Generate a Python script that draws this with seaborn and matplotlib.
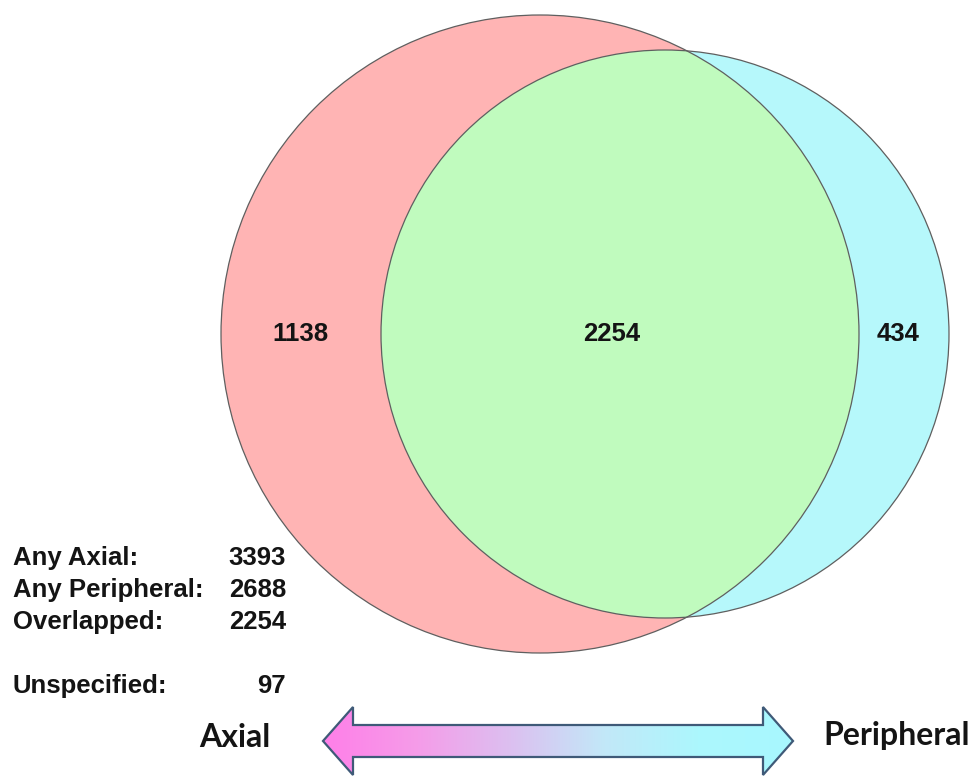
import numpy as np
import matplotlib
matplotlib.use("Agg")
import matplotlib.pyplot as plt
import seaborn as sns
from matplotlib.patches import Circle, Polygon
from matplotlib.colors import LinearSegmentedColormap

# ---- data ----
region_names = ["Axial only", "Overlapped", "Peripheral only"]
region_counts = [1138, 2254, 434]
summary_labels = ["Any Axial:", "Any Peripheral:", "Overlapped:", "Unspecified:"]
summary_values = [3393, 2688, 2254, 97]
axis_labels = ["Axial", "Peripheral"]

# ---- style ----
sns.set_theme(style="white")
plt.rcParams["font.family"] = ["Liberation Sans", "DejaVu Sans"]

W, H = 978, 776
fig = plt.figure(figsize=(W / 100, H / 100), dpi=100)
ax = fig.add_axes([0, 0, 1, 1])
ax.set_xlim(0, W)
ax.set_ylim(H, 0)
ax.axis("off")

# circle geometry (pixel units)
red_c, red_r = (540, 334), 319
cyan_c, cyan_r = (665, 334), 284
red_fill, green_fill, cyan_fill = "#ffb4b4", "#c0fbbe", "#b6f8fb"
edge = "#5f5f5f"

ax.add_patch(Circle(red_c, red_r, facecolor=red_fill, edgecolor="none", zorder=1))
ax.add_patch(Circle(cyan_c, cyan_r, facecolor=cyan_fill, edgecolor="none", zorder=1))
clip = Circle(red_c, red_r, transform=ax.transData, facecolor="none", edgecolor="none")
green = Circle(cyan_c, cyan_r, facecolor=green_fill, edgecolor="none", zorder=2)
ax.add_patch(green)
green.set_clip_path(clip)
ax.add_patch(Circle(red_c, red_r, facecolor="none", edgecolor=edge, lw=0.9, zorder=3))
ax.add_patch(Circle(cyan_c, cyan_r, facecolor="none", edgecolor=edge, lw=0.9, zorder=3))

# region counts
region_x = [300, 612, 898]
for x, v in zip(region_x, region_counts):
    ax.text(x, 334, str(v), ha="center", va="center", fontsize=18.5,
            fontweight="bold", color="#141414", zorder=5)

# summary block
rows_y = [565, 597, 629, 693]
for y, lab, v in zip(rows_y, summary_labels, summary_values):
    ax.text(13, y, lab, ha="left", va="baseline", fontsize=18.5,
            fontweight="bold", color="#141414")
    ax.text(286, y, str(v), ha="right", va="baseline", fontsize=18.5,
            fontweight="bold", color="#141414")

# gradient double arrow
cy = 741
tipL, baseL, baseR, tipR = 323, 353, 763, 793
hh, sh = 34, 16
pts = [(tipL, cy), (baseL, cy - hh), (baseL, cy - sh), (baseR, cy - sh), (baseR, cy - hh),
       (tipR, cy), (baseR, cy + hh), (baseR, cy + sh), (baseL, cy + sh), (baseL, cy + hh)]
ax.add_patch(Polygon(pts, closed=True, facecolor="none", edgecolor="#3f5a78",
                     lw=1.6, zorder=6))
cmap = LinearSegmentedColormap.from_list(
    "ap", ["#ff7fe8", "#f59ce9", "#dcc0f0", "#c2e8f8", "#acf7fd", "#a8f8ff"])
grad = np.linspace(0, 1, 256).reshape(1, -1)
im = ax.imshow(grad, cmap=cmap, extent=(tipL, tipR, cy + hh, cy - hh),
               aspect="auto", zorder=5)
im.set_clip_path(Polygon(pts, closed=True, transform=ax.transData))
ax.set_xlim(0, W)
ax.set_ylim(H, 0)

ax.text(235, 747, axis_labels[0], ha="center", va="baseline", fontsize=23,
        fontweight="bold", family=["Lato", "DejaVu Sans"], color="#141414")
ax.text(897, 745, axis_labels[1], ha="center", va="baseline", fontsize=23,
        fontweight="bold", family=["Lato", "DejaVu Sans"], color="#141414")

fig.savefig("out.png", dpi=100)
